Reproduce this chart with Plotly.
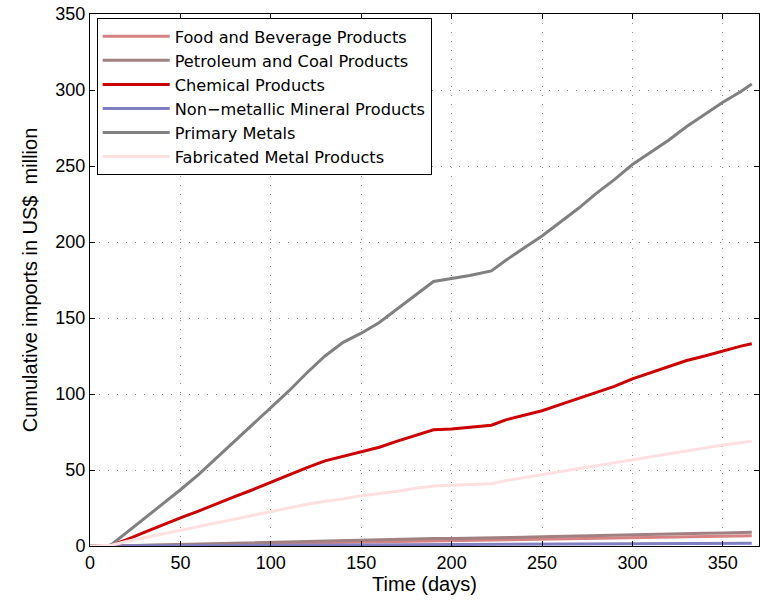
import plotly.graph_objects as go

days = [0, 10, 12, 20, 30, 40, 50, 60, 70, 80, 90, 100, 110, 120, 130, 140, 150,
        160, 170, 180, 190, 200, 210, 222, 230, 240, 250, 260, 270, 280, 290, 300,
        310, 320, 330, 340, 350, 360, 366]

food = [0, 0, 0, 0.1, 0.3, 0.5, 0.7, 0.9, 1.1, 1.3, 1.5, 1.7, 1.9, 2.1, 2.3, 2.5, 2.7,
        2.9, 3.1, 3.3, 3.5, 3.6, 3.7, 3.8, 4.0, 4.2, 4.4, 4.6, 4.8, 5.0, 5.2, 5.4,
        5.6, 5.8, 6.0, 6.2, 6.4, 6.6, 6.7]
petroleum = [0, 0, 0, 0.2, 0.5, 0.8, 1.1, 1.4, 1.7, 2.0, 2.3, 2.6, 2.9, 3.2, 3.5, 3.7, 3.9,
             4.1, 4.3, 4.6, 4.9, 5.0, 5.1, 5.3, 5.5, 5.8, 6.1, 6.4, 6.7, 7.0, 7.3, 7.6,
             7.8, 8.0, 8.2, 8.4, 8.6, 8.8, 9.0]
chemical = [0, 0, 0.5, 4, 9, 14, 18.5, 23, 28, 32.5, 37, 42, 47, 51.5, 56, 59, 62,
            65, 69, 73, 76.5, 77, 78, 79.5, 83, 86, 89, 93, 97, 101, 105, 110,
            114, 118, 122, 125, 128.5, 131.5, 133]
nonmetallic = [0, 0, 0, 0.05, 0.1, 0.15, 0.2, 0.25, 0.3, 0.35, 0.4, 0.45, 0.5, 0.55, 0.6, 0.65, 0.7,
               0.75, 0.8, 0.85, 0.9, 0.92, 0.95, 1.0, 1.05, 1.1, 1.15, 1.2, 1.25, 1.3, 1.35, 1.4,
               1.45, 1.5, 1.55, 1.6, 1.65, 1.7, 1.75]
primary = [0, 0, 1, 8.5, 18, 27.5, 37, 47, 58, 69, 80, 91, 102, 114, 125, 134, 140,
           147, 156, 165, 174, 176, 178, 181, 188, 196, 204, 213, 222, 232, 241, 251,
           259, 267, 276, 284, 292, 299, 304]
fabricated = [0, 0.3, 0.5, 3, 5.5, 8, 10, 12.5, 15, 17.5, 20, 22.5, 25, 27.5, 29.5, 31, 33,
              34.5, 36, 38, 39.5, 40, 40.5, 41, 43, 45, 47, 49, 51, 53, 55, 57,
              59, 61, 63, 65, 66.5, 68, 69]

series = [
    ("Food and Beverage Products", food, "#D78282"),
    ("Petroleum and Coal Products", petroleum, "#A08080"),
    ("Chemical Products", chemical, "#CC0000"),
    ("Non\u2212metallic Mineral Products", nonmetallic, "#8080C0"),
    ("Primary Metals", primary, "#808080"),
    ("Fabricated Metal Products", fabricated, "#FFE0E0"),
]

fig = go.Figure()
for name, vals, col in series:
    fig.add_trace(go.Scatter(x=days, y=vals, mode="lines", name=name,
                             line=dict(color=col, width=3)))

font_family = "Liberation Sans, Arial, sans-serif"
axis_common = dict(
    showline=True, linecolor="black", linewidth=1, mirror="ticks",
    ticks="inside", ticklen=5, tickcolor="black", tickwidth=1,
    showgrid=True, gridcolor="#8C8C8C", griddash="1px,8px", gridwidth=1,
    zeroline=False, tickfont=dict(size=18, color="black", family=font_family),
    dtick=50, automargin=False, ticklabeloverflow="allow",
)

fig.update_layout(
    width=763, height=602,
    margin=dict(l=90, r=4, t=14, b=56),
    plot_bgcolor="white", paper_bgcolor="white",
    font=dict(family=font_family, color="black"),
    xaxis=dict(range=[0, 370], title=dict(text="Time (days)", font=dict(size=20), standoff=0),
               **axis_common),
    yaxis=dict(range=[0, 350], title=dict(text="Cumulative imports in US$  million", font=dict(size=20), standoff=12),
               **axis_common),
    legend=dict(x=0.01, y=0.992, xanchor="left", yanchor="top",
                bgcolor="white", bordercolor="black", borderwidth=1,
                itemwidth=67,
                font=dict(size=16.2, color="black", family="DejaVu Sans, sans-serif"),
                tracegroupgap=0),
    showlegend=True,
)

fig.write_html("out.html", config={"displayModeBar": False},
               post_script="document.body.style.margin='0';")
